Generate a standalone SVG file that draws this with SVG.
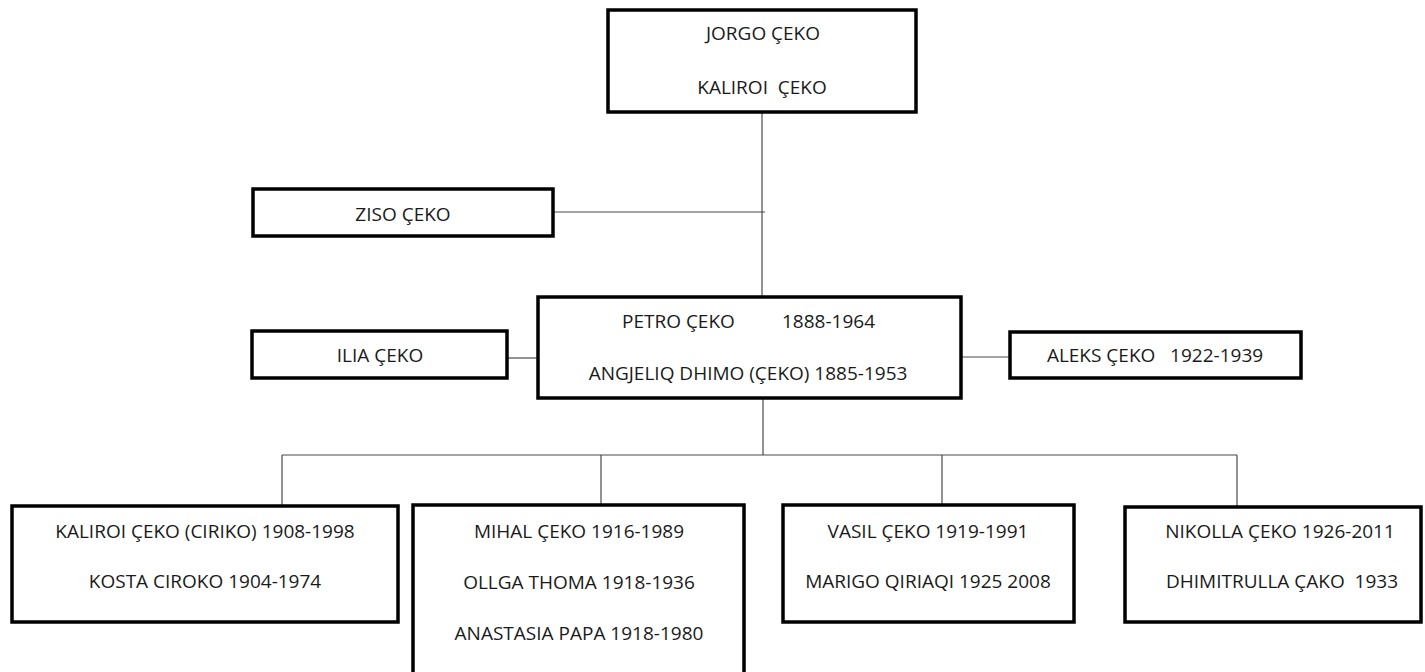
<svg xmlns="http://www.w3.org/2000/svg" width="1425" height="672" viewBox="0 0 1425 672">
  <style>
    .box { fill: #ffffff; stroke: #000000; stroke-width: 3.5; }
    .link { fill: none; stroke: #4a4a4a; stroke-width: 1.2; }
    text { font-family: "Open Sans", "Liberation Sans", sans-serif; font-size: 19px; fill: #1a1a1a; }
    .c { text-anchor: middle; }
  </style>
  <rect width="1425" height="672" fill="#ffffff"/>

  <!-- connectors -->
  <g id="connectors">
    <path class="link" d="M762 113 V297"/>
    <path class="link" d="M553 212 H765"/>
    <path class="link" d="M507 358 H538"/>
    <path class="link" d="M961 357 H1010"/>
    <path class="link" d="M763 399 V455"/>
    <path class="link" d="M282 455 H1237"/>
    <path class="link" d="M282 455 V506"/>
    <path class="link" d="M601 455 V505"/>
    <path class="link" d="M942 455 V505"/>
    <path class="link" d="M1237 455 V507"/>
  </g>

  <g id="jorgo-kaliroi">
    <rect class="box" x="608" y="10" width="308" height="102"/>
    <text class="c" x="763" y="40">JORGO ÇEKO</text>
    <text class="c" x="762" y="94" xml:space="preserve">KALIROI  ÇEKO</text>
  </g>

  <g id="ziso">
    <rect class="box" x="253" y="189" width="300" height="47"/>
    <text class="c" x="403" y="221">ZISO ÇEKO</text>
  </g>

  <g id="ilia">
    <rect class="box" x="252" y="331" width="255" height="47"/>
    <text class="c" x="380" y="362">ILIA ÇEKO</text>
  </g>

  <g id="petro-angjeliq">
    <rect class="box" x="538" y="297" width="423" height="101"/>
    <text x="622" y="328">PETRO ÇEKO</text>
    <text x="782" y="328">1888-1964</text>
    <text class="c" x="748" y="380">ANGJELIQ DHIMO (ÇEKO) 1885-1953</text>
  </g>

  <g id="aleks">
    <rect class="box" x="1010" y="332" width="291" height="46"/>
    <text class="c" x="1155" y="362" xml:space="preserve">ALEKS ÇEKO   1922-1939</text>
  </g>

  <g id="kaliroi-kosta">
    <rect class="box" x="12" y="506" width="386" height="116"/>
    <text class="c" x="205" y="538">KALIROI ÇEKO (CIRIKO) 1908-1998</text>
    <text class="c" x="205" y="588">KOSTA CIROKO 1904-1974</text>
  </g>

  <g id="mihal">
    <rect class="box" x="413" y="505" width="331" height="180"/>
    <text class="c" x="579" y="538">MIHAL ÇEKO 1916-1989</text>
    <text class="c" x="579" y="589">OLLGA THOMA 1918-1936</text>
    <text class="c" x="579" y="640">ANASTASIA PAPA 1918-1980</text>
  </g>

  <g id="vasil-marigo">
    <rect class="box" x="783" y="505" width="291" height="117"/>
    <text class="c" x="928" y="538">VASIL ÇEKO 1919-1991</text>
    <text class="c" x="928" y="588">MARIGO QIRIAQI 1925 2008</text>
  </g>

  <g id="nikolla-dhimitrulla">
    <rect class="box" x="1125" y="507" width="296" height="115"/>
    <text class="c" x="1280" y="538">NIKOLLA ÇEKO 1926-2011</text>
    <text class="c" x="1282" y="588" xml:space="preserve">DHIMITRULLA ÇAKO  1933</text>
  </g>
</svg>
